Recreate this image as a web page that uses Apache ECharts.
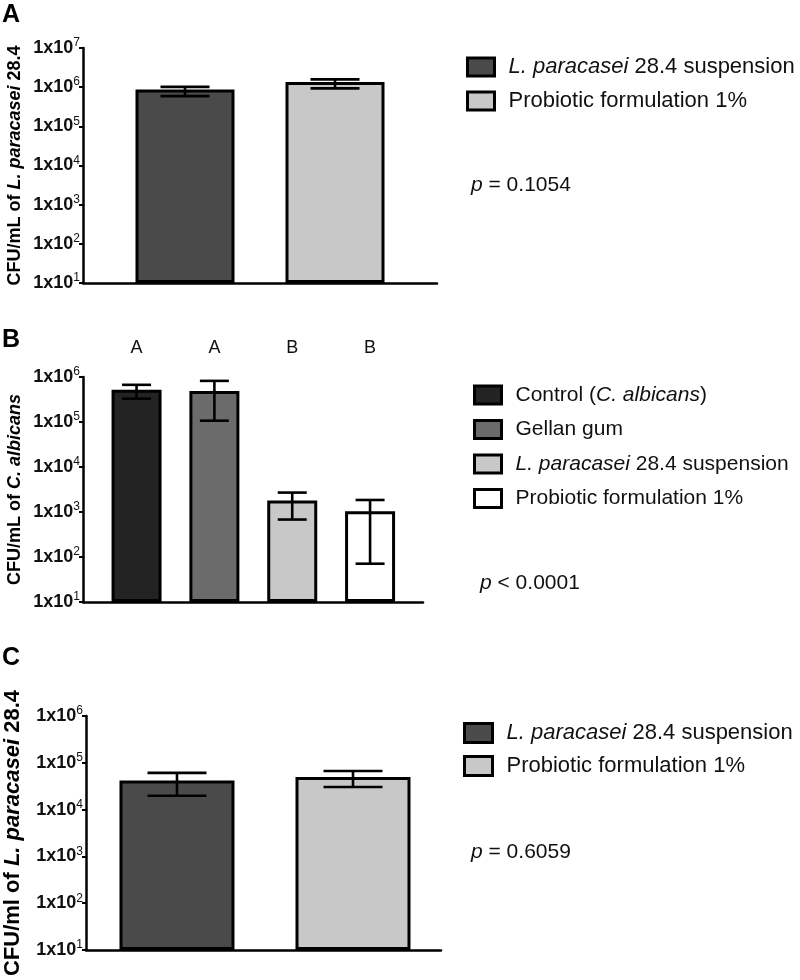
<!DOCTYPE html>
<html><head><meta charset="utf-8">
<script src="https://cdn.jsdelivr.net/npm/echarts@6/dist/echarts.min.js"></script>
<style>html,body{margin:0;padding:0;background:#fff}#c{width:800px;height:980px}</style>
</head><body><div id="c"></div>
<script>
// ---------- Panel A ----------
const aNames = ['L. paracasei 28.4 suspension', 'Probiotic formulation 1%'];
const aMeans = [8.7e5, 1.35e6];
const aLow = [5.9e5, 9.3e5];
const aHigh = [1.02e6, 1.58e6];
const aColors = ['#4a4a4a', '#c8c8c8'];
const aRange = [1e1, 1e7];
const aPText = ' = 0.1054';

// ---------- Panel B ----------
const bNames = ['Control (C. albicans)', 'Gellan gum', 'L. paracasei 28.4 suspension', 'Probiotic formulation 1%'];
const bMeans = [5.2e5, 4.9e5, 1.8e3, 1.04e3];
const bLow = [3.3e5, 1.07e5, 680, 71];
const bHigh = [6.7e5, 8.2e5, 2.7e3, 1.85e3];
const bLetters = ['A', 'A', 'B', 'B'];
const bColors = ['#232323', '#6b6b6b', '#c8c8c8', '#ffffff'];
const bRange = [1e1, 1e6];
const bPText = ' < 0.0001';

// ---------- Panel C ----------
const cNames = ['L. paracasei 28.4 suspension', 'Probiotic formulation 1%'];
const cMeans = [4.2e4, 4.97e4];
const cLow = [1.98e4, 3.04e4];
const cHigh = [6.1e4, 6.7e4];
const cColors = ['#4a4a4a', '#c8c8c8'];
const cRange = [1e1, 1e6];
const cPText = ' = 0.6059';

const FONT = 'Liberation Sans, Arial, Helvetica, sans-serif';

function italicize(s) {
  return s.replace(/(L\. paracasei|C\. albicans)/g, '{i|$1}');
}
function legendFmt(name) { return italicize(name.slice(2)); }

function yLabelFmt(v) {
  const e = Math.round(Math.log10(v));
  return '{b|1x10}{s|' + e + '}';
}

const grids = [
  { left: 83, top: 48, width: 354, height: 235 },
  { left: 83, top: 377, width: 340, height: 225 },
  { left: 86, top: 716, width: 355, height: 234 }
];
const xRanges = [[0.32, 2.68], [0.312, 4.68], [0.483, 2.5]];
const yRanges = [aRange, bRange, cRange];
const yNames = [
  '{n|CFU/mL of }{i|L. paracasei}{n| 28.4}',
  '{n|CFU/mL of }{i|C. albicans}',
  '{n|CFU/ml of }{i|L. paracasei}{n| 28.4}'
];
const nameSizes = [18, 18, 22];
const nameGaps = [59, 59, 62];

const xAxes = grids.map((g, k) => ({
  type: 'value', gridIndex: k, min: xRanges[k][0], max: xRanges[k][1],
  axisLine: { show: true, onZero: false, lineStyle: { color: '#000', width: 2.5 } },
  axisTick: { show: false }, axisLabel: { show: false }, splitLine: { show: false }
}));
const yAxes = grids.map((g, k) => ({
  type: 'log', logBase: 10, gridIndex: k, min: yRanges[k][0], max: yRanges[k][1], startValue: yRanges[k][0],
  axisLine: { show: true, onZero: false, lineStyle: { color: '#000', width: 2.5 } },
  axisTick: { show: true, length: 4, lineStyle: { color: '#000', width: 2 } },
  splitLine: { show: false }, minorTick: { show: false },
  axisLabel: {
    formatter: yLabelFmt, margin: 3, color: '#000',
    rich: {
      b: { fontSize: 18, fontWeight: 'bold', fontFamily: FONT, color: '#111', lineHeight: 22 },
      s: { fontSize: 12, fontFamily: FONT, color: '#111', verticalAlign: 'top', lineHeight: 14 }
    }
  },
  name: yNames[k], nameLocation: 'middle', nameRotate: 90, nameGap: nameGaps[k],
  nameTextStyle: {
    rich: {
      n: { fontSize: nameSizes[k], fontWeight: 'bold', fontFamily: FONT, color: '#000' },
      i: { fontSize: nameSizes[k], fontWeight: 'bold', fontStyle: 'italic', fontFamily: FONT, color: '#000' }
    }
  }
}));

const series = [];
function addBars(prefix, names, means, colors, k, barW) {
  names.forEach((n, i) => {
    series.push({
      type: 'bar', name: prefix + n, xAxisIndex: k, yAxisIndex: k,
      data: [[i + 1, means[i]]], barWidth: barW, barGap: '-100%',
      itemStyle: { color: colors[i], borderColor: '#000', borderWidth: 3 },
      emphasis: { disabled: true }, animation: false, z: 2
    });
  });
}
function addErr(low, high, k, capHalf) {
  series.push({
    type: 'custom', xAxisIndex: k, yAxisIndex: k, z: 5, animation: false, silent: true,
    data: low.map((l, i) => [i + 1, l, high[i]]),
    encode: { x: 0, y: [1, 2] },
    renderItem: function (params, api) {
      const x = api.value(0);
      const ph = api.coord([x, api.value(2)]);
      const pl = api.coord([x, api.value(1)]);
      const st = { stroke: '#000', lineWidth: 2.6 };
      return {
        type: 'group', children: [
          { type: 'line', shape: { x1: ph[0], y1: ph[1], x2: pl[0], y2: pl[1] }, style: st },
          { type: 'line', shape: { x1: ph[0] - capHalf, y1: ph[1], x2: ph[0] + capHalf, y2: ph[1] }, style: st },
          { type: 'line', shape: { x1: pl[0] - capHalf, y1: pl[1], x2: pl[0] + capHalf, y2: pl[1] }, style: st }
        ]
      };
    }
  });
}
addBars('A:', aNames, aMeans, aColors, 0, 99);
addErr(aLow, aHigh, 0, 24.5);
addBars('B:', bNames, bMeans, bColors, 1, 50);
addErr(bLow, bHigh, 1, 14.5);
addBars('C:', cNames, cMeans, cColors, 2, 115);
addErr(cLow, cHigh, 2, 29.5);

// group letters above panel B bars
series.push({
  type: 'custom', xAxisIndex: 1, yAxisIndex: 1, z: 5, animation: false, silent: true, clip: false,
  data: bLetters.map((l, i) => [i + 1, bRange[1]]),
  encode: { x: 0, y: 1 },
  renderItem: function (params, api) {
    const p = api.coord([api.value(0), api.value(1)]);
    return {
      type: 'text', x: p[0], y: p[1] - 29,
      style: { text: bLetters[params.dataIndex], fontSize: 18, fontFamily: FONT, fill: '#111', align: 'center', verticalAlign: 'middle' }
    };
  }
});

function legendCfg(prefix, names, left, top, size, gap, iw, ih) {
  return {
    data: names.map(n => prefix + n), orient: 'vertical', left: left, top: top, padding: 0,
    itemWidth: iw, itemHeight: ih, itemGap: gap, icon: 'rect', selectedMode: false,
    itemStyle: { borderColor: '#000', borderWidth: 3 },
    formatter: legendFmt,
    textStyle: {
      fontSize: size, lineHeight: size, color: '#111', fontFamily: FONT, padding: [0, 0, 0, 9],
      rich: { i: { fontSize: size, fontStyle: 'italic', fontFamily: FONT, color: '#111' } }
    }
  };
}

function pText(x, y, rest) {
  return {
    type: 'text', x: x, y: y,
    style: {
      text: '{i|p}' + rest, fontSize: 21, fontFamily: FONT, fill: '#111', verticalAlign: 'middle',
      rich: { i: { fontSize: 21, fontStyle: 'italic', fontFamily: FONT, fill: '#111' } }
    }
  };
}
function panelLetter(t, x, y) {
  return { type: 'text', x: x, y: y, style: { text: t, fontSize: 25, fontWeight: 'bold', fontFamily: FONT, fill: '#000', verticalAlign: 'middle' } };
}

const option = {
  backgroundColor: '#fff',
  animation: false,
  grid: grids,
  xAxis: xAxes,
  yAxis: yAxes,
  legend: [
    legendCfg('A:', aNames, 466, 56, 22, 12, 27, 18),
    legendCfg('B:', bNames, 473, 384.5, 21, 13.5, 27, 18),
    legendCfg('C:', cNames, 463, 722, 22, 11, 28, 19)
  ],
  graphic: [
    panelLetter('A', 2, 15),
    panelLetter('B', 2, 340),
    panelLetter('C', 2, 658),
    pText(471, 185, aPText),
    pText(480, 583, bPText),
    pText(471, 852, cPText)
  ],
  series: series
};

const chart = echarts.init(document.getElementById('c'), null, { renderer: 'canvas' });
chart.setOption(option);
</script>
</body></html>
